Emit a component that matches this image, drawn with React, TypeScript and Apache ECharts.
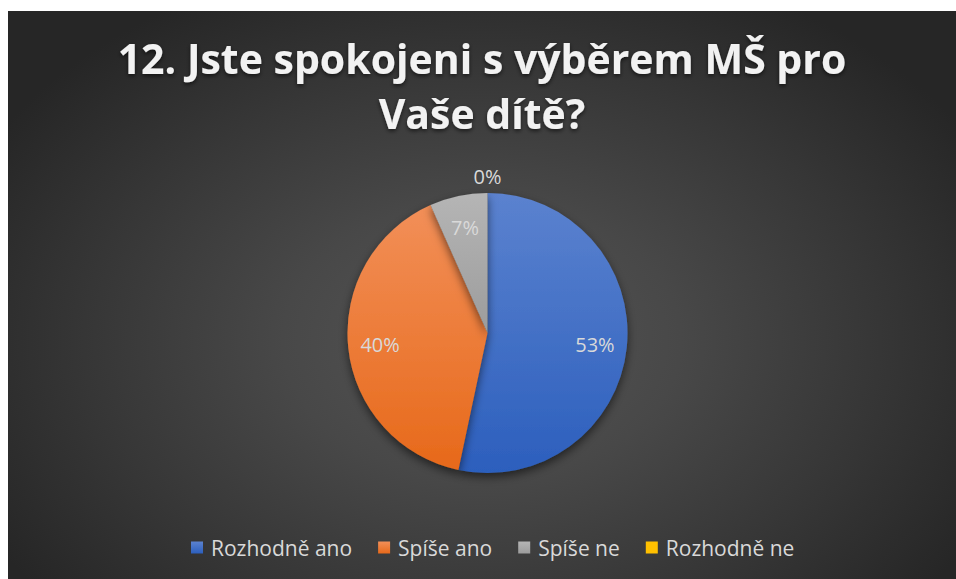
import React, { useEffect, useRef } from "react";
import * as echarts from "echarts";

const titleText = "12. Jste spokojeni s výběrem MŠ pro\nVaše dítě?";
const categories = ["Rozhodně ano", "Spíše ano", "Spíše ne", "Rozhodně ne"];
const values = [8, 6, 1, 0];
const topColors = ["#5b82cf", "#f28f58", "#b5b5b5", "#ffc000"];
const bottomColors = ["#2c5fbd", "#e7691a", "#9c9c9c", "#ffc000"];

const grad = (i: number) =>
  new echarts.graphic.LinearGradient(0, 0, 0, 1, [
    { offset: 0, color: topColors[i] },
    { offset: 1, color: bottomColors[i] },
  ]);

export default function App() {
  const ref = useRef<HTMLDivElement>(null);
  useEffect(() => {
    if (!ref.current) return;
    const chart = echarts.init(ref.current, null, { renderer: "svg" });
    const total = values.reduce((a, b) => a + b, 0);
    const center = [479.5, 322];
    const R = 140;
    chart.setOption({
      animation: false,
      backgroundColor: "transparent",
      title: {
        text: titleText,
        left: "center",
        top: 14,
        textStyle: {
          fontFamily: "Open Sans",
          fontWeight: "bold",
          fontSize: 41,
          lineHeight: 55,
          color: "#f2f2f2",
          textShadowColor: "rgba(0,0,0,0.6)",
          textShadowBlur: 4,
          textShadowOffsetY: 2,
        },
      },
      legend: {
        data: categories,
        bottom: 16,
        left: 178,
        itemWidth: 12,
        itemHeight: 12,
        itemGap: 26,
        icon: "rect",
        textStyle: {
          fontFamily: "Open Sans",
          fontSize: 21,
          color: "#d9d9d9",
          padding: [0, 0, 0, 3],
        },
      },
      series: [
        {
          type: "pie",
          center,
          radius: [0, R],
          startAngle: 90,
          clockwise: true,
          avoidLabelOverlap: false,
          silent: true,
          label: { show: false },
          labelLine: { show: false },
          itemStyle: {
            shadowColor: "rgba(0,0,0,0.55)",
            shadowBlur: 10,
            shadowOffsetY: 4,
          },
          data: categories.map((name, i) => ({
            name,
            value: values[i],
            itemStyle: { color: grad(i) },
          })),
        },
        {
          type: "pie",
          center,
          radius: [R * 0.5, R],
          startAngle: 90,
          clockwise: true,
          avoidLabelOverlap: false,
          silent: true,
          itemStyle: { color: "rgba(0,0,0,0)", borderWidth: 0 },
          label: {
            show: true,
            position: "inside",
            fontFamily: "Open Sans",
            fontSize: 20,
            color: "#d9d9d9",
            formatter: (p: any) => Math.round((p.value / total) * 100) + "%",
          },
          labelLine: { show: false, length: 17, length2: 0 },
          labelLayout: (p: any) => (p.dataIndex === 3 ? { align: "center" } : {}),
          data: categories.map((name, i) => ({
            name,
            value: values[i],
            label: values[i] === 0 ? { position: "outside", distanceToLabelLine: 0 } : undefined,
          })),
        },
      ],
    });
    return () => chart.dispose();
  }, []);
  return (
    <div
      ref={ref}
      style={{
        position: "absolute",
        left: 8,
        top: 11,
        width: 948,
        height: 568,
        background:
          "radial-gradient(ellipse 60% 70% at 50% 58%, #555555 0%, #484848 35%, #363636 70%, #262626 100%)",
      }}
    />
  );
}
